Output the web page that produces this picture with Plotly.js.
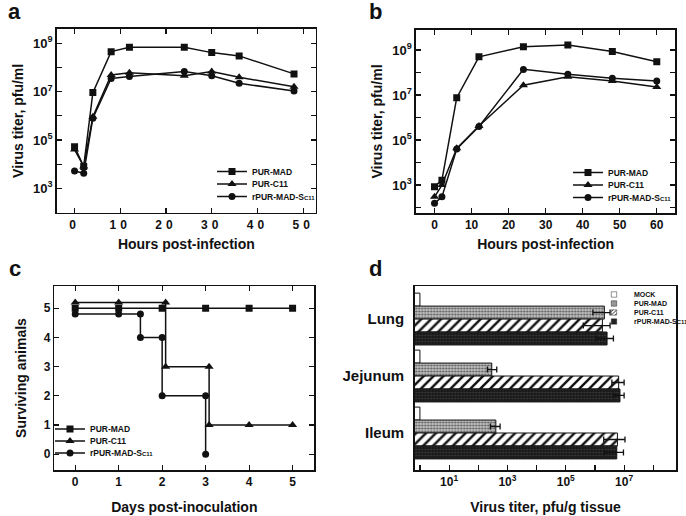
<!DOCTYPE html>
<html>
<head>
<meta charset="utf-8">
<script src="https://cdn.plot.ly/plotly-3.0.1.min.js"></script>
<style>
  html, body { margin: 0; padding: 0; background: #fff; overflow: hidden; }
  #chart { width: 686px; height: 516px; }
  .subplot.xy .xaxislayer-above .xtick text,
  .subplot.x2y2 .xaxislayer-above .xtick text { letter-spacing: 4px; }
</style>
</head>
<body>
<div id="chart"></div>
<script>
// ---------- Panel a: virus titer (pfu/ml) vs hours ----------
const hoursA   = [0, 2, 4, 8, 12, 24, 30, 36, 48];
const purMadA  = [5.2e4, 8.0e3, 9.1e6, 4.5e8, 6.8e8, 6.8e8, 4.1e8, 3.0e8, 5.4e7];
const purC11A  = [4.0e4, 8.0e3, 9.1e5, 4.9e7, 6.0e7, 4.5e7, 6.8e7, 3.9e7, 1.6e7];
const rPurA    = [5.2e3, 4.2e3, 7.9e5, 3.5e7, 4.2e7, 6.8e7, 4.5e7, 2.2e7, 1.07e7];

// ---------- Panel b: virus titer (pfu/ml) vs hours ----------
const hoursB   = [0, 2, 6, 12, 24, 36, 48, 60];
const purMadB  = [850, 1.66e3, 7.6e6, 5.0e8, 1.41e9, 1.66e9, 8.5e8, 3.0e8];
const purC11B  = [300, 1.0e3, 4.3e4, 4.2e5, 2.75e7, 6.5e7, 4.2e7, 2.3e7];
const rPurB    = [155, 300, 4.0e4, 4.0e5, 1.38e8, 8.3e7, 5.5e7, 4.2e7];

// ---------- Panel c: surviving animals vs days ----------
const daysPurMadC = [0, 1, 2, 3, 4, 5];
const survPurMadC = [5, 5, 5, 5, 5, 5];
const daysPurC11C = [0, 1, 2.08, 2.08, 3.08, 3.08, 4, 5];
const survPurC11C = [5.2, 5.2, 5.2, 3, 3, 1, 1, 1];
const daysRPurC   = [0, 1, 1.5, 1.5, 2, 2, 3, 3];
const survRPurC   = [4.8, 4.8, 4.8, 4, 4, 2, 2, 0];

// ---------- Panel d: tissue titers (pfu/g) ----------
const tissues      = ["Lung", "Jejunum", "Ileum"];
const mockD        = [1, 1, 1];
const purMadD      = [2.1e6, 290, 400];
const purMadDplus  = [1.2e6, 140, 160];
const purMadDminus = [1.25e6, 85, 140];
const purC11D      = [1.8e6, 6.5e6, 5.9e6];
const purC11Dplus  = [1.5e6, 3.5e6, 4.8e6];
const purC11Dminus = [1.4e6, 2.7e6, 3.9e6];
const rPurD        = [2.6e6, 7.2e6, 5.6e6];
const rPurDplus    = [1.7e6, 2.8e6, 3.9e6];
const rPurDminus   = [1.5e6, 2.8e6, 3.5e6];

// ---------- tick labels ----------
const titerTickVals = [1e3, 1e5, 1e7, 1e9];
const titerTickText = ["10<sup>3</sup>", "10<sup>5</sup>", "10<sup>7</sup>", "10<sup>9</sup>"];
const tissueTickVals = [10, 1e3, 1e5, 1e7];
const tissueTickText = ["10<sup>1</sup>", "10<sup>3</sup>", "10<sup>5</sup>", "10<sup>7</sup>"];
const hoursTicksA = [0, 10, 20, 30, 40, 50];
const hoursTicksB = [0, 10, 20, 30, 40, 50, 60];
const dayTicks = [0, 1, 2, 3, 4, 5];
const animalTicks = [0, 1, 2, 3, 4, 5];

const nameMad = "PUR-MAD";
const nameC11 = "PUR-C11";
const nameRPur = "rPUR-MAD-S<span style='font-size:6px'>C11</span>";

const FONT = "Liberation Sans, Arial, Helvetica, sans-serif";
const black = "#111";

function lineTrace(x, y, name, symbol, size, xa, ya, legend) {
  return {
    type: "scatter", mode: "lines+markers", x: x, y: y, name: name,
    xaxis: xa, yaxis: ya, legend: legend,
    line: { color: black, width: 1.5 },
    marker: { symbol: symbol, size: size, color: black }
  };
}

const traces = [
  lineTrace(hoursA, purMadA, nameMad, "square", 7, "x", "y", "legend"),
  lineTrace(hoursA, purC11A, nameC11, "triangle-up", 8, "x", "y", "legend"),
  lineTrace(hoursA, rPurA, nameRPur, "circle", 7, "x", "y", "legend"),
  lineTrace(hoursB, purMadB, nameMad, "square", 7, "x2", "y2", "legend2"),
  lineTrace(hoursB, purC11B, nameC11, "triangle-up", 8, "x2", "y2", "legend2"),
  lineTrace(hoursB, rPurB, nameRPur, "circle", 7, "x2", "y2", "legend2"),
  lineTrace(daysPurMadC, survPurMadC, nameMad, "square", 7, "x3", "y3", "legend3"),
  lineTrace(daysPurC11C, survPurC11C, nameC11, "triangle-up", 8, "x3", "y3", "legend3"),
  lineTrace(daysRPurC, survRPurC, nameRPur, "circle", 7, "x3", "y3", "legend3"),
  {
    type: "bar", orientation: "h", name: "MOCK", x: mockD, y: tissues,
    xaxis: "x4", yaxis: "y4", legend: "legend4",
    marker: { color: "#ffffff", line: { color: black, width: 1 } }
  },
  {
    type: "bar", orientation: "h", name: "PUR-MAD", x: purMadD, y: tissues,
    xaxis: "x4", yaxis: "y4", legend: "legend4",
    marker: { color: "#b4b4b4", line: { color: black, width: 1 },
      pattern: { shape: ".", fgcolor: "#555", bgcolor: "#c2c2c2", size: 3, solidity: 0.4 } },
    error_x: { type: "data", array: purMadDplus, arrayminus: purMadDminus, symmetric: false,
      color: black, thickness: 1.3, width: 3 }
  },
  {
    type: "bar", orientation: "h", name: "PUR-C11", x: purC11D, y: tissues,
    xaxis: "x4", yaxis: "y4", legend: "legend4",
    marker: { color: "#ffffff", line: { color: black, width: 1 },
      pattern: { shape: "/", fgcolor: "#111", bgcolor: "#ffffff", size: 7, solidity: 0.35 } },
    error_x: { type: "data", array: purC11Dplus, arrayminus: purC11Dminus, symmetric: false,
      color: black, thickness: 1.3, width: 3 }
  },
  {
    type: "bar", orientation: "h", name: nameRPur, x: rPurD, y: tissues,
    xaxis: "x4", yaxis: "y4", legend: "legend4",
    marker: { color: "#1a1a1a", line: { color: black, width: 1 },
      pattern: { shape: ".", fgcolor: "#3a3a3a", bgcolor: "#151515", size: 3, solidity: 0.4 } },
    error_x: { type: "data", array: rPurDplus, arrayminus: rPurDminus, symmetric: false,
      color: black, thickness: 1.3, width: 3 }
  }
];

const tickFont = { family: FONT, size: 12, color: black, weight: "bold" };
const supTickFont = { family: FONT, size: 13, color: black, weight: "bold" };
const titleFont = { family: FONT, size: 14, color: black, weight: "bold" };
const decadeMinor = { dtick: 1, ticks: "inside", ticklen: 5, tickwidth: 1.2, tickcolor: black, showgrid: false };

function frameAxis(extra) {
  return Object.assign({
    showline: true, linecolor: black, linewidth: 1.5, mirror: "ticks",
    ticks: "inside", ticklen: 5, tickwidth: 1.2, tickcolor: black,
    showgrid: false, zeroline: false, tickfont: tickFont, fixedrange: true
  }, extra);
}

function legendBox(x, y, xanchor, yanchor, size) {
  return {
    x: x, y: y, xanchor: xanchor, yanchor: yanchor,
    bgcolor: "rgba(0,0,0,0)", borderwidth: 0, tracegroupgap: 0, traceorder: "normal",
    font: { family: FONT, size: size, color: black, weight: "bold" }
  };
}

const layout = {
  width: 686, height: 516,
  margin: { l: 0, r: 0, t: 0, b: 0, autoexpand: false },
  paper_bgcolor: "#fff", plot_bgcolor: "#fff",
  font: { family: FONT, color: black },
  showlegend: true,
  barmode: "group", bargap: 0.09, bargroupgap: 0,
  xaxis: frameAxis({ domain: [0.0827, 0.4606], anchor: "y", range: [-3.9, 52.8],
    tickvals: hoursTicksA,
    title: { text: "Hours post-infection", font: titleFont, standoff: 8 } }),
  yaxis: frameAxis({ domain: [0.5878, 0.9438], anchor: "x", type: "log", range: [1.99, 9.59],
    tickvals: titerTickVals, ticktext: titerTickText, tickfont: supTickFont, minor: decadeMinor,
    title: { text: "Virus titer, pfu/ml", font: titleFont, standoff: 6 } }),
  xaxis2: frameAxis({ domain: [0.6064, 0.9844], anchor: "y2", range: [-5, 65],
    tickvals: hoursTicksB,
    title: { text: "Hours post-infection", font: titleFont, standoff: 8 } }),
  yaxis2: frameAxis({ domain: [0.5872, 0.9419], anchor: "x2", type: "log", range: [1.76, 9.89],
    tickvals: titerTickVals, ticktext: titerTickText, tickfont: supTickFont, minor: decadeMinor,
    title: { text: "Virus titer, pfu/ml", font: titleFont, standoff: 6 } }),
  xaxis3: frameAxis({ domain: [0.0792, 0.4582], anchor: "y3", range: [-0.48, 5.5],
    tickvals: dayTicks,
    title: { text: "Days post-inoculation", font: titleFont, standoff: 14 } }),
  yaxis3: frameAxis({ domain: [0.0891, 0.4457], anchor: "x3", range: [-0.54, 5.76],
    tickvals: animalTicks,
    title: { text: "Surviving animals", font: titleFont, standoff: 14 } }),
  xaxis4: frameAxis({ domain: [0.6045, 0.9859], anchor: "y4", type: "log", range: [-0.18, 8.79],
    mirror: true, tickvals: tissueTickVals, ticktext: tissueTickText, minor: decadeMinor,
    title: { text: "Virus titer, pfu/g tissue", font: titleFont, standoff: 14 } }),
  yaxis4: {
    domain: [0.0891, 0.4457], anchor: "x4", type: "category", categoryarray: tissues,
    range: [2.65, -0.58], showline: true, linecolor: black, linewidth: 1.5, mirror: true,
    ticks: "", showgrid: false, zeroline: false, fixedrange: true, ticklabelstandoff: 6,
    tickfont: { family: FONT, size: 15, color: black, weight: "bold" }
  },
  legend: legendBox(212 / 686, 1 - 184 / 516, "left", "middle", 8.5),
  legend2: legendBox(568 / 686, 1 - 185 / 516, "left", "middle", 8.5),
  legend3: legendBox(50 / 686, 1 - 441 / 516, "left", "middle", 8.5),
  legend4: legendBox(594 / 686, 1 - 280 / 516, "left", "top", 7),
  annotations: [
    { text: "a", x: 6 / 686, y: 1 - 20 / 516 },
    { text: "b", x: 367 / 686, y: 1 - 20 / 516 },
    { text: "c", x: 7 / 686, y: 1 - 277 / 516 },
    { text: "d", x: 367 / 686, y: 1 - 277 / 516 }
  ].map(a => Object.assign(a, {
    xref: "paper", yref: "paper", xanchor: "left", yanchor: "bottom", showarrow: false,
    font: { family: FONT, size: 22, color: black, weight: "bold" }, yshift: -6
  }))
};

// compact the legends (row spacing / symbol size) to resemble the original figure
function compactLegends(gd) {
  const spec = {
    legend:  { sp: 12.5, centered: true },
    legend2: { sp: 12.5, centered: true },
    legend3: { sp: 12,   centered: true },
    legend4: { sp: 9,    centered: false, textX: 27, symScale: 0.45 }
  };
  const parseT = s => {
    const m = /translate\(\s*([-\d.e]+)[ ,]+([-\d.e]+)\s*\)/.exec(s || "");
    return m ? [parseFloat(m[1]), parseFloat(m[2])] : [0, 0];
  };
  Object.keys(spec).forEach(id => {
    const cfg = spec[id];
    const g = gd.querySelector("g." + id);
    if (!g) return;
    const items = Array.from(g.querySelectorAll("g.traces"));
    if (!items.length) return;
    const ys = items.map(it => parseT(it.getAttribute("transform")));
    const y0 = ys[0][1];
    const oldSpan = ys[ys.length - 1][1] - y0;
    items.forEach((it, i) => {
      it.setAttribute("transform", "translate(" + ys[i][0] + "," + (y0 + i * cfg.sp) + ")");
      if (cfg.textX) {
        const t = it.querySelector("text.legendtext");
        if (t) t.setAttribute("x", cfg.textX);
      }
      if (cfg.symScale) {
        const lay = it.querySelector("g.layers");
        if (lay) {
          const c = 20, s = cfg.symScale;
          lay.setAttribute("transform", "translate(" + (c - c * s) + ",0) scale(" + s + ")");
        }
      }
    });
    if (cfg.centered) {
      const newSpan = (items.length - 1) * cfg.sp;
      const gt = parseT(g.getAttribute("transform"));
      g.setAttribute("transform", "translate(" + gt[0] + "," + (gt[1] + (oldSpan - newSpan) / 2) + ")");
    }
  });
}

Plotly.newPlot("chart", traces, layout, { displayModeBar: false, staticPlot: true })
  .then(gd => compactLegends(gd));
</script>
</body>
</html>
